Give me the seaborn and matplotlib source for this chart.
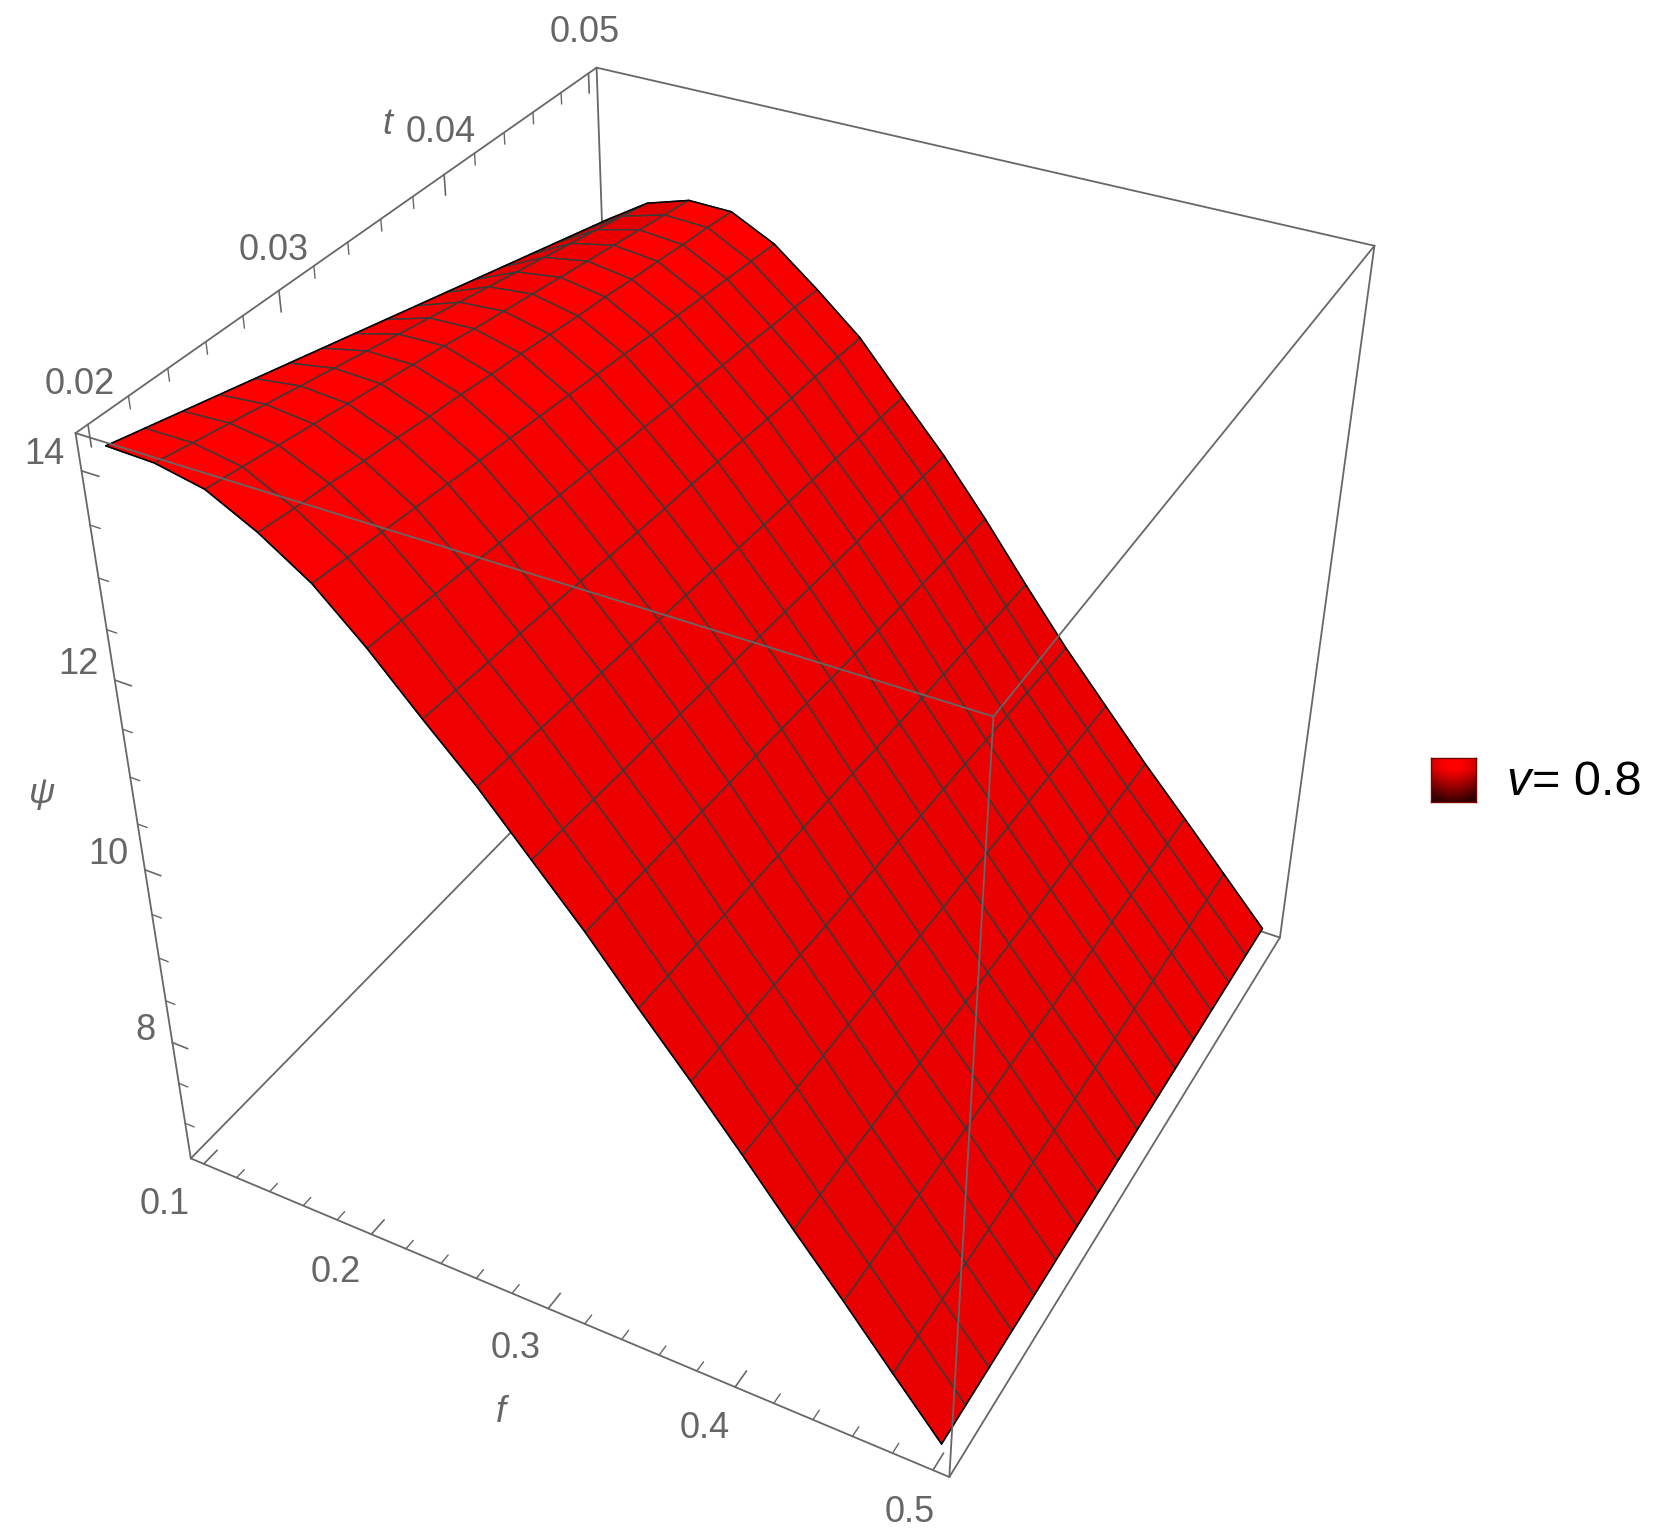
import numpy as np
import matplotlib
matplotlib.use('Agg')
import matplotlib.pyplot as plt
import seaborn as sns

f_vals = [0.1, 0.125, 0.15, 0.175, 0.2, 0.225, 0.25, 0.275, 0.3, 0.325, 0.35, 0.375, 0.4, 0.425, 0.45, 0.475, 0.5]
t_vals = [0.02, 0.021875, 0.02375, 0.025625, 0.0275, 0.029375, 0.03125, 0.033125, 0.035,
          0.036875, 0.03875, 0.040625, 0.0425, 0.044375, 0.04625, 0.048125, 0.05]
# rows follow t_vals, columns follow f_vals
psi_vals = [
    [14.190, 14.170, 14.07, 13.82, 13.50, 13.05, 12.54, 12.05, 11.50, 10.95, 10.35, 9.77, 9.17, 8.55, 7.95, 7.33, 6.72],
    [14.105, 14.104, 14.02, 13.78, 13.47, 13.03, 12.52, 12.03, 11.48, 10.93, 10.33, 9.75, 9.15, 8.53, 7.94, 7.33, 6.72],
    [14.020, 14.039, 13.97, 13.75, 13.44, 13.00, 12.50, 12.01, 11.46, 10.91, 10.31, 9.72, 9.13, 8.52, 7.93, 7.32, 6.72],
    [13.935, 13.973, 13.92, 13.71, 13.41, 12.98, 12.49, 11.99, 11.44, 10.89, 10.28, 9.70, 9.11, 8.50, 7.92, 7.32, 6.72],
    [13.850, 13.908, 13.87, 13.68, 13.38, 12.95, 12.47, 11.97, 11.43, 10.87, 10.26, 9.68, 9.09, 8.49, 7.91, 7.31, 6.72],
    [13.765, 13.842, 13.82, 13.64, 13.35, 12.93, 12.45, 11.95, 11.41, 10.85, 10.24, 9.65, 9.07, 8.47, 7.90, 7.30, 6.72],
    [13.680, 13.776, 13.77, 13.61, 13.32, 12.90, 12.43, 11.93, 11.39, 10.83, 10.22, 9.63, 9.05, 8.46, 7.89, 7.30, 6.72],
    [13.595, 13.711, 13.72, 13.57, 13.29, 12.88, 12.41, 11.91, 11.37, 10.81, 10.20, 9.61, 9.03, 8.44, 7.88, 7.29, 6.72],
    [13.510, 13.645, 13.66, 13.54, 13.26, 12.85, 12.39, 11.89, 11.35, 10.79, 10.18, 9.59, 9.01, 8.43, 7.87, 7.29, 6.72],
    [13.425, 13.579, 13.61, 13.50, 13.23, 12.83, 12.38, 11.86, 11.33, 10.76, 10.15, 9.56, 8.99, 8.41, 7.85, 7.29, 6.72],
    [13.340, 13.514, 13.56, 13.46, 13.20, 12.80, 12.36, 11.84, 11.31, 10.74, 10.13, 9.54, 8.97, 8.39, 7.84, 7.28, 6.72],
    [13.255, 13.448, 13.51, 13.43, 13.17, 12.78, 12.34, 11.82, 11.29, 10.72, 10.11, 9.52, 8.95, 8.38, 7.83, 7.28, 6.72],
    [13.170, 13.383, 13.46, 13.39, 13.14, 12.75, 12.32, 11.80, 11.27, 10.70, 10.09, 9.49, 8.93, 8.36, 7.82, 7.27, 6.72],
    [13.085, 13.317, 13.41, 13.36, 13.11, 12.73, 12.30, 11.78, 11.26, 10.68, 10.07, 9.47, 8.91, 8.35, 7.81, 7.27, 6.72],
    [13.000, 13.251, 13.36, 13.32, 13.08, 12.70, 12.29, 11.76, 11.24, 10.66, 10.04, 9.45, 8.89, 8.33, 7.80, 7.26, 6.72],
    [12.915, 13.186, 13.31, 13.29, 13.05, 12.68, 12.27, 11.74, 11.22, 10.64, 10.02, 9.42, 8.87, 8.32, 7.79, 7.25, 6.72],
    [12.830, 13.120, 13.26, 13.25, 13.02, 12.65, 12.25, 11.72, 11.20, 10.62, 10.00, 9.40, 8.85, 8.30, 7.78, 7.25, 6.72],
]

f_major = [0.1, 0.2, 0.3, 0.4, 0.5]
f_minor = [0.12, 0.14, 0.16, 0.18, 0.22, 0.24, 0.26, 0.28, 0.32, 0.34, 0.36, 0.38, 0.42, 0.44, 0.46, 0.48]
t_major = [0.02, 0.03, 0.04, 0.05]
t_minor = [0.022, 0.024, 0.026, 0.028, 0.032, 0.034, 0.036, 0.038, 0.042, 0.044, 0.046, 0.048]
psi_major = [8, 10, 12, 14]
psi_minor = [7, 7.5, 8.5, 9, 9.5, 10.5, 11, 11.5, 12.5, 13, 13.5]

f_lim = (0.092, 0.508)
t_lim = (0.0194, 0.0506)
psi_lim = (6.55, 14.34)

# unit box -> reference pixels, measured from the box corners
CAMERA = np.array([[655.002542, 554.519586, -127.994977, 190.796498],
                   [157.502822, -290.199248, -798.216076, 1158.418778],
                   [-0.109064, 0.203138, -0.168379, 1.0]])
W, H = 1657, 1535
GREY = '#676767'
TICK_TEXT = '#666666'

sns.set_theme(style='white')
plt.rcParams['font.family'] = ['Liberation Sans', 'DejaVu Sans']

fig = plt.figure(figsize=(W / 100, H / 100), dpi=100)
ax = fig.add_axes([0, 0, H / W, 1], projection='3d')
ax.set_axis_off()
ax.patch.set_alpha(0)


def fixed_proj():
    scale = np.diag([1 / (f_lim[1] - f_lim[0]), 1 / (t_lim[1] - t_lim[0]), 1 / (psi_lim[1] - psi_lim[0]), 1.0])
    scale[:3, 3] = [-f_lim[0] * scale[0, 0], -t_lim[0] * scale[1, 1], -psi_lim[0] * scale[2, 2]]
    vl = ax.viewLim
    to_view = np.array([[vl.width / H, 0, vl.x0], [0, -vl.height / H, vl.y0 + vl.height], [0, 0, 1]])
    xyw = to_view @ CAMERA
    depth = CAMERA[2] - np.array([0, 0, 0, 3.0])
    return np.vstack([xyw[0], xyw[1], depth, xyw[2]]) @ scale


ax.get_proj = fixed_proj

f_arr = np.array(f_vals)
t_arr = np.array(t_vals)
psi = np.array(psi_vals)
F, T = np.meshgrid(f_arr, t_arr)

# flat parts are full red, the steep slope is a bit darker, the face turned away darker still
dz_df = np.gradient(psi, f_arr, axis=1)
red = 1 - 0.085 * np.clip(-dz_df / 24, 0, 1) ** 2 - 0.28 * np.clip(dz_df / 12, 0, 1) ** 2
colors = np.zeros(psi.shape + (4,))
colors[..., 0] = red
colors[..., 3] = 1
ax.computed_zorder = False

f0, f1 = f_lim
t0, t1 = t_lim
z0, z1 = psi_lim


def edge(a, b, z=1, lw=1.3):
    ax.plot([a[0], b[0]], [a[1], b[1]], [a[2], b[2]], color=GREY, lw=lw, zorder=z)


# back of the box, under the surface
edge((f0, t1, z1), (f0, t1, z0))
edge((f0, t1, z0), (f0, t0, z0))
edge((f0, t1, z0), (f1, t1, z0))
edge((f0, t1, z1), (f1, t1, z1))
edge((f0, t1, z1), (f0, t0, z1))
edge((f1, t1, z1), (f1, t1, z0))
edge((f0, t0, z1), (f0, t0, z0))
edge((f0, t0, z0), (f1, t0, z0))
edge((f1, t0, z0), (f1, t1, z0))

ax.plot_surface(F, T, psi, rstride=1, cstride=1, facecolors=colors, shade=False, linewidth=1.0, zorder=2)
surf = ax.collections[-1]
surf.set_edgecolor('#353a3a')

n = len(f_vals)
for xs, ys, zs in [(f_arr, np.full(n, t_arr[0]), psi[0]), (f_arr, np.full(n, t_arr[-1]), psi[-1]),
                   (np.full(n, f_arr[0]), t_arr, psi[:, 0]), (np.full(n, f_arr[-1]), t_arr, psi[:, -1])]:
    ax.plot(xs, ys, zs, color='black', lw=1.1, zorder=3)

# front edges pass over the surface
edge((f1, t0, z1), (f0, t0, z1), z=4)
edge((f1, t0, z1), (f1, t1, z1), z=4)
edge((f1, t0, z1), (f1, t0, z0), z=4)

for vals, frac, lw in [(t_major, 0.026, 1.2), (t_minor, 0.015, 1.0)]:
    for t in vals:
        edge((f0, t, z1), (f0, t, z1 - frac * (z1 - z0)), lw=lw)
for vals, frac, lw in [(f_major, 0.026, 1.2), (f_minor, 0.015, 1.0)]:
    for f in vals:
        edge((f, t0, z0), (f, t0 + frac * (t1 - t0), z0), lw=lw)
for vals, frac, lw in [(psi_major, 0.022, 1.2), (psi_minor, 0.013, 1.0)]:
    for z in vals:
        edge((f0, t0, z), (f0 + frac * (f1 - f0), t0, z), lw=lw)


def label(x, y, s, **kw):
    kw.setdefault('color', TICK_TEXT)
    kw.setdefault('fontsize', 26)
    fig.text(x / W, 1 - (y + 2) / H, s, ha='center', va='center', **kw)


t_label_xy = [(80, 383), (274, 249), (441, 131), (585, 31)]
psi_label_xy = [(145, 1028), (108, 853), (78, 663), (44, 453)]
f_label_xy = [(165, 1202), (336, 1271), (516, 1347), (705, 1427), (910, 1510)]
for v, xy in zip(t_major, t_label_xy):
    label(*xy, f'{v:.2f}')
for v, xy in zip(psi_major, psi_label_xy):
    label(*xy, str(v))
for v, xy in zip(f_major, f_label_xy):
    label(*xy, f'{v:.1f}')
label(387, 122, 't', style='italic')
label(42, 792, 'ψ', style='italic')
label(501, 1411, 'f', style='italic')

# legend swatch
leg = fig.add_axes([1431 / W, 1 - 802 / H, 45 / W, 44 / H])
rows = np.linspace(0, 1, 44)[:, None]
cols = np.abs(np.linspace(-1, 1, 45))[None, :]
shade = np.clip(1 - np.clip(rows - 0.25, 0, 1) * 1.25 - 0.25 * cols ** 2, 0, 1)
cmap = sns.blend_palette(['#300000', '#ff0000'], as_cmap=True)
sns.heatmap(shade, cmap=cmap, vmin=0, vmax=1, cbar=False, xticklabels=False, yticklabels=False, ax=leg)
for sp in leg.spines.values():
    sp.set_visible(True)
    sp.set_color('#7a0000')
    sp.set_linewidth(1.0)

fig.text(1506 / W, 1 - 795 / H, 'v', style='italic', fontsize=35, color='black', ha='left', va='baseline')
fig.text(1532 / W, 1 - 795 / H, '= 0.8', fontsize=35, color='black', ha='left', va='baseline')

fig.savefig('out.png', dpi=100)
